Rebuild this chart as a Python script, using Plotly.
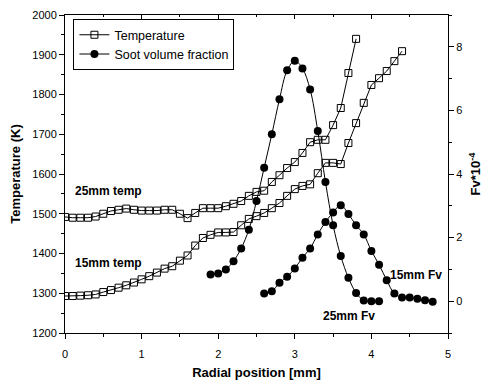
import plotly.graph_objects as go

# Temperature profiles (K) at 0.1 mm spacing
t25_x = [round(0.1 * i, 1) for i in range(0, 39)]
t25_T = [1492, 1490, 1490, 1490, 1493, 1500, 1507, 1510, 1513, 1510,
         1508, 1508, 1508, 1510, 1510, 1500, 1489, 1502, 1514, 1514,
         1514, 1519, 1525, 1532, 1545, 1555, 1558, 1580, 1597, 1615,
         1630, 1653, 1680, 1686, 1686, 1723, 1766, 1854, 1940]

t15_x = [round(0.1 * i, 1) for i in range(0, 45)]
t15_T = [1293, 1293, 1294, 1295, 1297, 1303, 1308, 1314, 1320, 1327,
         1335, 1343, 1352, 1362, 1368, 1382, 1395, 1420, 1439, 1447,
         1453, 1453, 1454, 1471, 1487, 1494, 1502, 1514, 1527, 1545,
         1562, 1570, 1574, 1602, 1628, 1628, 1625, 1678, 1728, 1779,
         1824, 1841, 1859, 1884, 1909]

# Soot volume fraction (Fv * 10^-4 scale)
fv25_x = [round(1.9 + 0.1 * i, 1) for i in range(0, 23)]
fv25 = [0.84, 0.87, 1.0, 1.26, 1.66, 2.25, 3.15, 4.2, 5.25, 6.35, 7.26, 7.56,
        7.32, 6.66, 5.35, 3.75, 2.39, 1.42, 0.74, 0.26, 0.02, 0.0, 0.0]

fv15_x = [round(2.6 + 0.1 * i, 1) for i in range(0, 23)]
fv15 = [0.24, 0.31, 0.58, 0.77, 1.03, 1.37, 1.66, 2.1, 2.49, 2.79, 3.02, 2.74,
        2.39, 2.1, 1.58, 1.15, 0.66, 0.24, 0.12, 0.12, 0.08, 0.03, -0.02]

FONT = "Arial, Liberation Sans, sans-serif"

sq = dict(symbol="square-open", size=7, color="black", line=dict(width=1, color="black"))
ci = dict(symbol="circle", size=8, color="black")

fig = go.Figure()
fig.add_trace(go.Scatter(x=t25_x, y=t25_T, mode="lines+markers", name="Temperature",
                         line=dict(color="black", width=1), marker=sq, legendrank=1))
fig.add_trace(go.Scatter(x=t15_x, y=t15_T, mode="lines+markers", name="Temperature",
                         line=dict(color="black", width=1), marker=sq, showlegend=False))
fig.add_trace(go.Scatter(x=fv25_x, y=fv25, mode="lines+markers", name="Soot volume fraction",
                         line=dict(color="black", width=1, shape="spline"), marker=ci,
                         yaxis="y2", legendrank=2))
fig.add_trace(go.Scatter(x=fv15_x, y=fv15, mode="lines+markers", name="Soot volume fraction",
                         line=dict(color="black", width=1, shape="spline"), marker=ci,
                         yaxis="y2", showlegend=False))
# empty trace so the top axis (ticks pointing inward) is drawn
fig.add_trace(go.Scatter(x=[None], y=[None], xaxis="x2", showlegend=False, hoverinfo="skip"))

axis_common = dict(showline=True, linecolor="black", linewidth=1, showgrid=False,
                   zeroline=False, tickcolor="black", automargin=False,
                   tickfont=dict(family=FONT, size=11, color="black"))

fig.update_layout(
    width=483, height=384,
    margin=dict(l=65, r=35, t=15, b=51),
    paper_bgcolor="white", plot_bgcolor="white",
    font=dict(family=FONT, color="black"),
    xaxis=dict(range=[0, 5], dtick=1, ticks="outside", ticklen=5, ticklabelstandoff=6,
               minor=dict(ticks="outside", ticklen=3, dtick=0.5, tickcolor="black"),
               title=dict(text="<b>Radial position [mm]</b>", font=dict(family=FONT, size=13), standoff=8),
               **axis_common),
    xaxis2=dict(range=[0, 5], overlaying="x", side="top", anchor="y", dtick=1,
                ticks="inside", ticklen=4, showticklabels=False,
                minor=dict(ticks="inside", ticklen=2, dtick=0.5, tickcolor="black"),
                **axis_common),
    yaxis=dict(range=[1200, 2000], dtick=100, ticks="outside", ticklen=5,
               minor=dict(ticks="outside", ticklen=3, dtick=50, tickcolor="black"),
               title=dict(text="<b>Temperature (K)</b>", font=dict(family=FONT, size=13), standoff=8),
               **axis_common),
    yaxis2=dict(range=[-1, 9], overlaying="y", side="right", anchor="x",
                tickvals=[0, 2, 4, 6, 8], ticks="outside", ticklen=5,
                minor=dict(ticks="outside", ticklen=3, dtick=1, tickcolor="black"),
                title=dict(text="<b>Fv*10<sup>-4</sup></b>", font=dict(family=FONT, size=13), standoff=13),
                **axis_common),
    legend=dict(x=0.022, y=0.987, xanchor="left", yanchor="top",
                bordercolor="black", borderwidth=1, bgcolor="white",
                font=dict(family=FONT, size=12.5, color="black"),
                tracegroupgap=0, itemwidth=30),
    showlegend=True,
)

ann_font = dict(family=FONT, size=12, color="black")
for txt, ax, ay in [("25mm temp", 0.1, 1557), ("15mm temp", 0.1, 1376)]:
    fig.add_annotation(x=ax, y=ay, xref="x", yref="y", text=f"<b>{txt}</b>",
                       showarrow=False, xanchor="left", yanchor="middle", font=ann_font)
fig.add_annotation(x=4.22, y=0.82, xref="x", yref="y2", text="<b>15mm Fv</b>",
                   showarrow=False, xanchor="left", yanchor="middle", font=ann_font)
fig.add_annotation(x=3.34, y=-0.47, xref="x", yref="y2", text="<b>25mm Fv</b>",
                   showarrow=False, xanchor="left", yanchor="middle", font=ann_font)

fig.write_html("out.html")
